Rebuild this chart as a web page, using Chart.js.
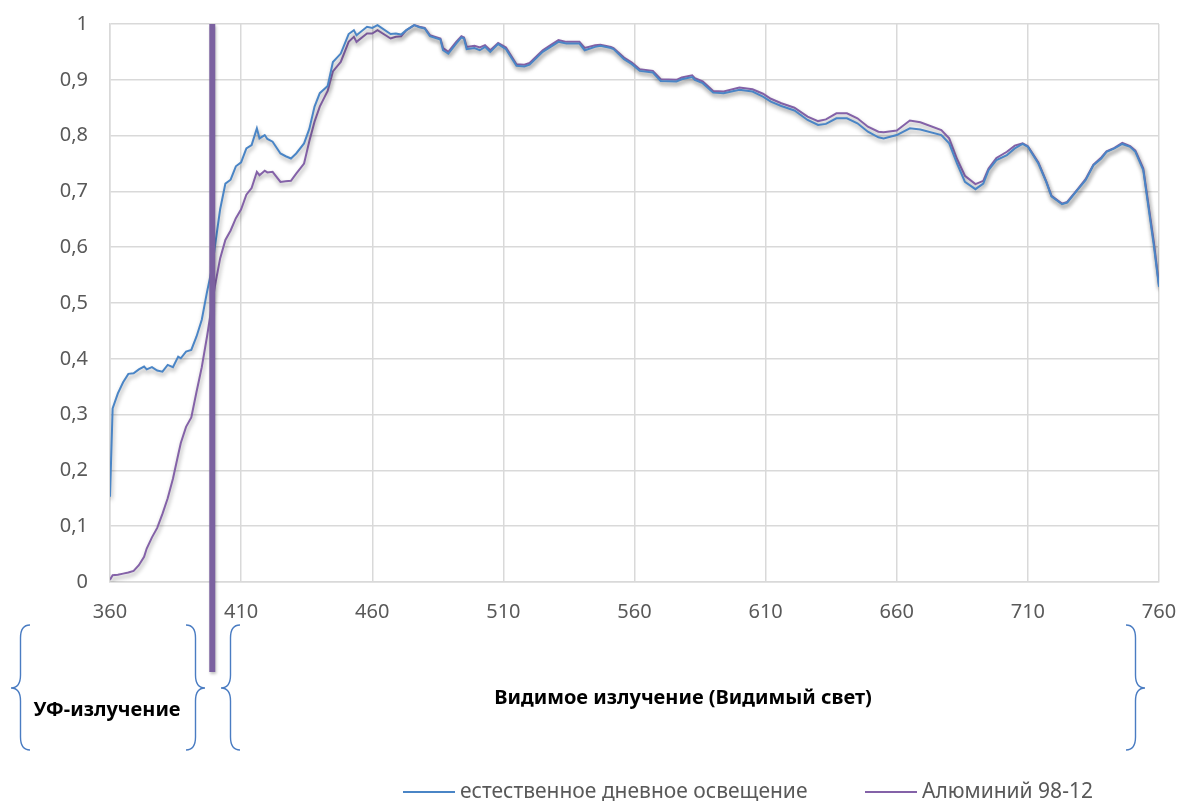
<!DOCTYPE html>
<html>
<head>
<meta charset="utf-8">
<script src="https://cdn.jsdelivr.net/npm/chart.js@4/dist/chart.umd.min.js"></script>
<style>
  html, body { margin: 0; padding: 0; background: #fff; }
  #wrap { width: 1181px; height: 801px; position: relative; }
</style>
</head>
<body>
<div id="wrap"><canvas id="spectrum"></canvas></div>
<script>
  // wavelength, nm
  const wavelengths = [
      360, 361, 363, 365, 367, 369, 371, 373, 374, 376,
      378, 380, 382, 384, 386, 387, 389, 391, 393, 395,
      397, 399, 400, 402, 404, 406, 408, 410, 412, 414,
      416, 417, 419, 420, 422, 425, 427, 429, 431, 434,
      436, 438, 440, 443, 445, 448, 451, 453, 454, 458,
      460, 462, 467, 469, 471, 473, 476, 478, 480, 482,
      486, 487, 489, 492, 494, 495, 496, 499, 501, 503,
      505, 508, 511, 515, 518, 520, 525, 528, 531, 534,
      539, 541, 545, 547, 551, 552, 556, 559, 562, 567,
      570, 576, 578, 582, 583, 586, 590, 594, 600, 605,
      609, 612, 616, 621, 626, 630, 633, 637, 641, 645,
      649, 653, 655, 660, 665, 669, 677, 680, 683, 686,
      690, 693, 695, 698, 702, 705, 708, 710, 714, 717,
      719, 723, 725, 729, 732, 735, 738, 740, 743, 746,
      749, 751, 754, 758, 760
  ];

  const daylight = [
      0.153, 0.311, 0.338, 0.358, 0.373, 0.374, 0.381, 0.386, 0.381, 0.385,
      0.379, 0.377, 0.389, 0.385, 0.404, 0.401, 0.413, 0.416, 0.440, 0.470,
      0.520, 0.565, 0.601, 0.668, 0.714, 0.721, 0.745, 0.752, 0.777, 0.783,
      0.813, 0.795, 0.801, 0.794, 0.789, 0.768, 0.763, 0.759, 0.768, 0.786,
      0.812, 0.852, 0.876, 0.889, 0.932, 0.947, 0.982, 0.989, 0.980, 0.995,
      0.993, 0.998, 0.982, 0.983, 0.981, 0.989, 0.998, 0.994, 0.992, 0.978,
      0.972, 0.953, 0.947, 0.965, 0.976, 0.974, 0.955, 0.957, 0.953, 0.959,
      0.950, 0.964, 0.955, 0.925, 0.924, 0.927, 0.950, 0.959, 0.968, 0.965,
      0.965, 0.953, 0.959, 0.961, 0.957, 0.955, 0.937, 0.928, 0.916, 0.913,
      0.898, 0.897, 0.901, 0.905, 0.900, 0.894, 0.877, 0.876, 0.882, 0.879,
      0.870, 0.861, 0.853, 0.845, 0.828, 0.819, 0.821, 0.831, 0.831, 0.822,
      0.807, 0.797, 0.795, 0.801, 0.813, 0.811, 0.801, 0.786, 0.750, 0.717,
      0.704, 0.714, 0.738, 0.756, 0.765, 0.777, 0.785, 0.780, 0.750, 0.717,
      0.691, 0.677, 0.680, 0.703, 0.720, 0.747, 0.759, 0.771, 0.777, 0.785,
      0.780, 0.771, 0.738, 0.604, 0.529
  ];

  const aluminium = [
      0.004, 0.012, 0.013, 0.015, 0.017, 0.020, 0.030, 0.045, 0.060, 0.080,
      0.097, 0.122, 0.150, 0.185, 0.228, 0.249, 0.278, 0.295, 0.341, 0.385,
      0.440, 0.500, 0.530, 0.580, 0.613, 0.630, 0.652, 0.668, 0.694, 0.706,
      0.735, 0.729, 0.737, 0.734, 0.735, 0.717, 0.718, 0.719, 0.732, 0.750,
      0.790, 0.825, 0.852, 0.880, 0.915, 0.932, 0.968, 0.977, 0.968, 0.983,
      0.983, 0.989, 0.974, 0.977, 0.978, 0.989, 0.998, 0.995, 0.993, 0.980,
      0.974, 0.957, 0.950, 0.968, 0.978, 0.976, 0.959, 0.961, 0.958, 0.962,
      0.953, 0.966, 0.958, 0.928, 0.927, 0.930, 0.953, 0.962, 0.971, 0.968,
      0.968, 0.957, 0.962, 0.963, 0.959, 0.957, 0.940, 0.931, 0.919, 0.916,
      0.901, 0.900, 0.904, 0.908, 0.903, 0.897, 0.880, 0.879, 0.886, 0.883,
      0.875, 0.866, 0.858, 0.850, 0.834, 0.826, 0.829, 0.840, 0.840, 0.831,
      0.816, 0.807, 0.806, 0.809, 0.827, 0.824, 0.810, 0.795, 0.758, 0.728,
      0.713, 0.719, 0.741, 0.760, 0.771, 0.782, 0.786, 0.781, 0.752, 0.718,
      0.692, 0.678, 0.681, 0.704, 0.722, 0.748, 0.761, 0.772, 0.778, 0.787,
      0.781, 0.773, 0.741, 0.610, 0.532
  ];

  const xTickLabels = [360, 410, 460, 510, 560, 610, 660, 710, 760];
  const seriesNames = ['естественное дневное освещение', 'Алюминий 98-12'];
  const uvBoundary = 399;
  const regionNames = ['УФ-излучение', 'Видимое излучение (Видимый свет)'];

  const FONT = '"Noto Sans", "DejaVu Sans", sans-serif';
  const GREY = '#595959';
  const GRID = '#d9d9d9';
  const BLUE = '#4a85c6';
  const PURPLE = '#8462a8';

  const toPoints = (vals) => wavelengths.map((w, i) => ({ x: w, y: vals[i] }));

  // curly brace, cusp points to the side of xCusp
  const drawBrace = (ctx, xCusp, xCurl, yTop, yBot, yMid) => {
      const xs = (xCusp + xCurl) / 2;
      const r = 13;
      ctx.beginPath();
      ctx.moveTo(xCurl, yTop);
      ctx.quadraticCurveTo(xs, yTop, xs, yTop + r);
      ctx.lineTo(xs, yMid - r);
      ctx.quadraticCurveTo(xs, yMid, xCusp, yMid);
      ctx.quadraticCurveTo(xs, yMid, xs, yMid + r);
      ctx.lineTo(xs, yBot - r);
      ctx.quadraticCurveTo(xs, yBot, xCurl, yBot);
      ctx.stroke();
  };

  const decor = {
      id: 'decor',
      beforeDatasetDraw(chart) {
          const ctx = chart.ctx;
          ctx.save();
          ctx.shadowColor = 'rgba(0,0,0,0.38)';
          ctx.shadowBlur = 4;
          ctx.shadowOffsetX = 1;
          ctx.shadowOffsetY = 3;
      },
      afterDatasetDraw(chart) {
          chart.ctx.restore();
      },
      afterDatasetsDraw(chart) {
          const ctx = chart.ctx;
          const x = chart.scales.x.getPixelForValue(uvBoundary);
          const area = chart.chartArea;
          ctx.save();
          ctx.shadowColor = 'rgba(0,0,0,0.25)';
          ctx.shadowBlur = 3;
          ctx.shadowOffsetX = 1;
          ctx.shadowOffsetY = 2;
          ctx.strokeStyle = '#7b61a0';
          ctx.lineWidth = 6;
          ctx.beginPath();
          ctx.moveTo(x, area.top);
          ctx.lineTo(x, area.bottom + 90);
          ctx.stroke();
          ctx.restore();
      },
      afterDraw(chart) {
          const ctx = chart.ctx;
          const b = chart.chartArea.bottom;
          const yTop = b + 43, yBot = b + 168, yMid = b + 106;

          ctx.save();
          ctx.strokeStyle = '#4a7cc2';
          ctx.lineWidth = 1.4;
          drawBrace(ctx, 11, 30, yTop, yBot, yMid);
          drawBrace(ctx, 205, 186, yTop, yBot, yMid);
          drawBrace(ctx, 221, 240, yTop, yBot, yMid);
          drawBrace(ctx, 1145, 1126, yTop, yBot, yMid);

          ctx.fillStyle = '#000';
          ctx.font = 'bold 20px ' + FONT;
          ctx.textAlign = 'center';
          ctx.textBaseline = 'middle';
          ctx.fillText(regionNames[0], 107, b + 128);
          ctx.fillText(regionNames[1], 683, b + 116);

          // legend
          const legendX = [403, 865];
          const ly = b + 210;
          ctx.font = '21px ' + FONT;
          ctx.textAlign = 'left';
          chart.data.datasets.forEach((ds, i) => {
              ctx.strokeStyle = ds.borderColor;
              ctx.lineWidth = 2;
              ctx.beginPath();
              ctx.moveTo(legendX[i], ly);
              ctx.lineTo(legendX[i] + 52, ly);
              ctx.stroke();
              ctx.fillStyle = GREY;
              ctx.fillText(ds.label, legendX[i] + 57, ly);
          });
          ctx.restore();
      }
  };

  const ctx = document.getElementById('spectrum').getContext('2d');
  new Chart(ctx, {
      type: 'line',
      data: {
          datasets: [{
              label: seriesNames[0],
              data: toPoints(daylight),
              borderColor: BLUE,
              borderWidth: 2,
              pointRadius: 0,
              tension: 0,
              fill: false
          }, {
              label: seriesNames[1],
              data: toPoints(aluminium),
              borderColor: PURPLE,
              borderWidth: 2,
              pointRadius: 0,
              tension: 0,
              fill: false
          }]
      },
      options: {
          responsive: true,
          maintainAspectRatio: false,
          animation: false,
          devicePixelRatio: 1,
          layout: { padding: { top: 24, right: 22, left: 0, bottom: 0 } },
          plugins: {
              legend: { display: false },
              tooltip: { enabled: false }
          },
          scales: {
              x: {
                  type: 'linear',
                  min: 360,
                  max: 760,
                  afterBuildTicks: (scale) => {
                      scale.ticks = xTickLabels.map(v => ({ value: v }));
                  },
                  afterFit: (scale) => { scale.height = 219; },
                  // invisible tick marks keep the labels off the axis without widening the side padding
                  grid: { color: GRID, lineWidth: 1.5, drawTicks: true, tickLength: 14, tickColor: 'rgba(0,0,0,0)' },
                  border: { color: GRID, width: 1.5 },
                  ticks: {
                      color: GREY,
                      font: { family: FONT, size: 20 },
                      padding: 4,
                      maxRotation: 0,
                      autoSkip: false
                  }
              },
              y: {
                  min: 0,
                  max: 1,
                  afterFit: (scale) => { scale.width = 110; },
                  grid: { color: GRID, lineWidth: 1.5, drawTicks: true, tickLength: 20, tickColor: 'rgba(0,0,0,0)' },
                  border: { color: GRID, width: 1.5 },
                  ticks: {
                      stepSize: 0.1,
                      color: GREY,
                      font: { family: FONT, size: 20 },
                      padding: 2,
                      callback: (v) => String(+v.toFixed(1)).replace('.', ',')
                  }
              }
          }
      },
      plugins: [decor]
  });
</script>
</body>
</html>
